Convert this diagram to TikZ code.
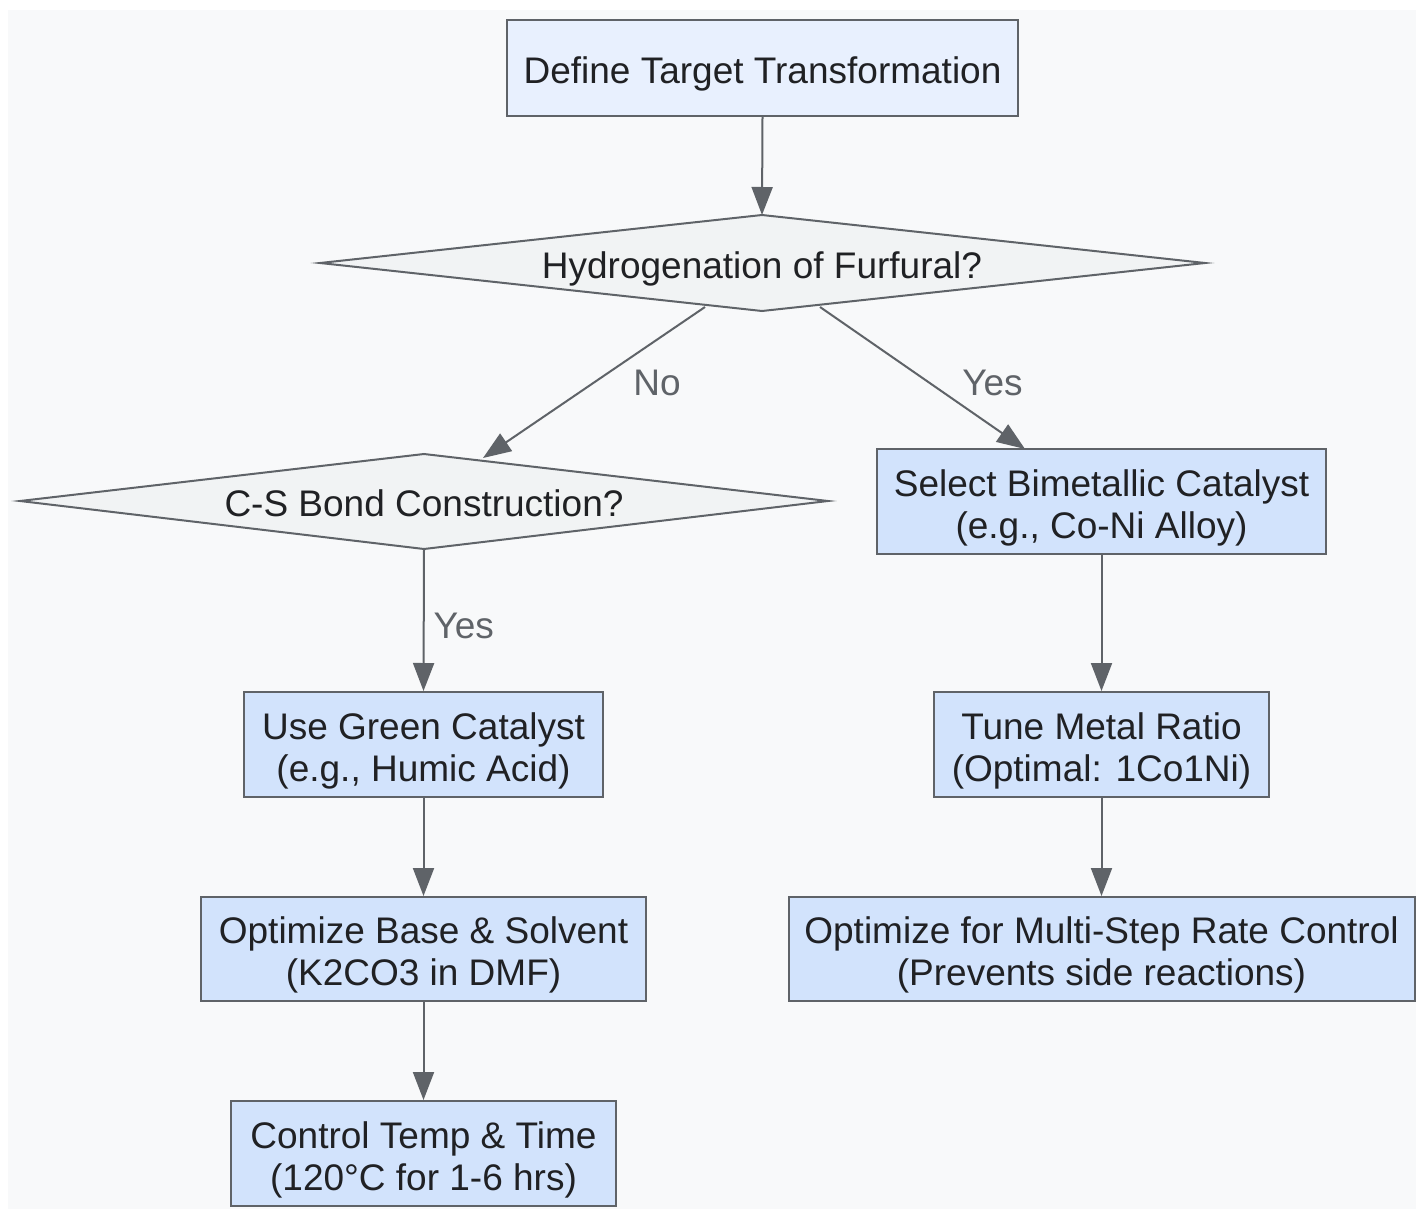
\documentclass[tikz,border=0pt]{standalone}
\usepackage{fontspec}
\setmainfont{Liberation Sans}
\usetikzlibrary{arrows.meta,shapes.geometric}
\definecolor{bgc}{HTML}{F8F9FA}
\definecolor{edgec}{HTML}{5F6368}
\definecolor{boxc}{HTML}{D2E3FC}
\definecolor{topc}{HTML}{E8F0FE}
\definecolor{decc}{HTML}{F1F3F4}
\definecolor{txtc}{HTML}{202124}
\tikzset{
  shapebox/.style={draw=edgec, line width=2pt, rectangle, inner sep=0pt},
  procbox/.style={shapebox, fill=boxc},
  topbox/.style={shapebox, fill=topc},
  dec/.style={draw=edgec, line width=2pt, fill=decc},
  txt/.style={text=txtc, font=\fontsize{37}{42}\selectfont, align=center, inner sep=0pt, yshift=-6pt},
  conn/.style={draw=edgec, line width=2pt, -{Triangle[length=28pt,width=21pt]}},
  lbl/.style={text=edgec, font=\fontsize{37}{42}\selectfont, inner sep=0pt}
}
\begin{document}
\begin{tikzpicture}[x=1pt,y=-1pt]
\useasboundingbox (0,0) rectangle (1416,1209);
\fill[bgc] (8,10) rectangle (1416,1209);
% nodes
\node[topbox, minimum width=511pt, minimum height=96pt] (define) at (762.5,68) {};
\node[txt] (definet) at (define.center) {Define Target Transformation};
\path[dec] (320,263) -- (762,215) -- (1205,263) -- (762,311) -- cycle;
\node[txt] (hyd) at (762,263) {Hydrogenation of Furfural?};
\coordinate (hydtop) at (762,215);
\coordinate (hydL) at (705,307);
\coordinate (hydR) at (820,307);
\path[dec] (20,501) -- (424,454) -- (828,501) -- (424,549) -- cycle;
\node[txt, yshift=4pt] (cs) at (424,501) {C-S Bond Construction?};
\coordinate (cstop) at (483,458);
\coordinate (csbot) at (424,549);
\node[procbox, minimum width=449pt, minimum height=105pt] (select) at (1101.5,501.5) {};
\node[txt] (selectt) at (select.center) {Select Bimetallic Catalyst\\(e.g., Co-Ni Alloy)};
\coordinate (selecttop) at (1025,449);
\node[procbox, minimum width=359pt, minimum height=105pt] (green) at (423.5,744.5) {};
\node[txt] (greent) at (green.center) {Use Green Catalyst\\(e.g., Humic Acid)};
\node[procbox, minimum width=445pt, minimum height=104pt] (base) at (423.5,949) {};
\node[txt] (baset) at (base.center) {Optimize Base \& Solvent\\(K2CO3 in DMF)};
\node[procbox, minimum width=385pt, minimum height=105pt] (ctrl) at (423.5,1153.5) {};
\node[txt] (ctrlt) at (ctrl.center) {Control Temp \& Time\\(120°C for 1-6 hrs)};
\node[procbox, minimum width=335pt, minimum height=105pt] (tune) at (1101.5,744.5) {};
\node[txt] (tunet) at (tune.center) {Tune Metal Ratio\\(Optimal: 1Co1Ni)};
\node[procbox, minimum width=626pt, minimum height=104pt] (multi) at (1101.5,949) {};
\node[txt] (multit) at (multi.center) {Optimize for Multi-Step Rate Control\\(Prevents side reactions)};
% connectors
\draw[conn] (define.south) -- (hydtop);
\draw[conn] (hydL) -- node[lbl, pos=0.5, xshift=63pt] {No} (cstop);
\draw[conn] (hydR) -- node[lbl, pos=0.5, xshift=70pt, yshift=-5pt] {Yes} (selecttop);
\draw[conn] (csbot) -- node[lbl, pos=0.53, xshift=40pt, yshift=-2pt] {Yes} (green.north);
\draw[conn] (green.south) -- (base.north);
\draw[conn] (base.south) -- (ctrl.north);
\draw[conn] (select.south) -- (tune.north);
\draw[conn] (tune.south) -- (multi.north);
\end{tikzpicture}
\end{document}
